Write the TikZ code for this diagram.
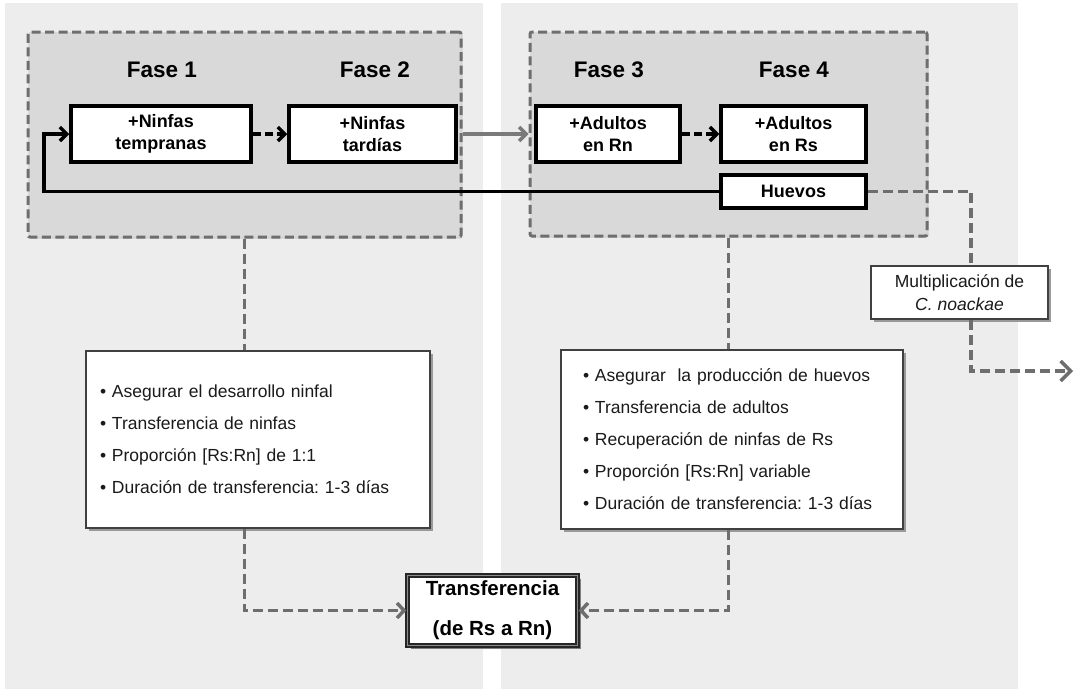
\documentclass[tikz,border=0pt]{standalone}
\usepackage{fontspec}
\setmainfont{Liberation Sans}
\usetikzlibrary{arrows.meta,shadows}
\definecolor{panel}{HTML}{EDEDED}
\definecolor{phase}{HTML}{D9D9D9}
\definecolor{dashgray}{HTML}{6E6E6E}
\definecolor{arrgray}{HTML}{7A7A7A}
\definecolor{txt}{HTML}{1A1A1A}
\frenchspacing
\begin{document}
\begin{tikzpicture}[x=1pt,y=-1pt,
  stagebox/.style={draw=black, fill=white, line width=3.5pt, minimum height=56pt, inner sep=0pt, align=center, font=\fontsize{18}{22}\selectfont\bfseries},
  phasebox/.style={draw=dashgray, fill=phase, line width=3pt, dash pattern=on 9pt off 4.5pt, rounded corners=2pt, inner sep=0pt, drop shadow={shadow xshift=1.5pt, shadow yshift=-1.5pt, fill=black!25, opacity=0.6}},
  phaselabel/.style={font=\fontsize{22.5}{26}\selectfont\bfseries, inner sep=0pt},
  infobox/.style={draw=black!75, fill=white, line width=1.5pt, drop shadow={shadow xshift=3pt, shadow yshift=-3pt, fill=black!40, opacity=1}, align=left, inner ysep=0pt, font=\fontsize{17.5}{32}\selectfont, text=txt},
  multbox/.style={draw=black!75, fill=white, line width=1.5pt, drop shadow={shadow xshift=3pt, shadow yshift=-3pt, fill=black!40, opacity=1}, align=center, inner sep=0pt, font=\fontsize{17.5}{23}\selectfont, text=txt},
  transbox/.style={draw=black!85, double=black!45, double distance=0.8pt, line width=2.2pt, fill=white, drop shadow={shadow xshift=3pt, shadow yshift=-3pt, fill=black!50, opacity=1}, align=center, inner sep=0pt, font=\fontsize{20.5}{40}\selectfont\bfseries},
  grayconn/.style={draw=dashgray, line width=3.5pt, dash pattern=on 10pt off 5pt},
  graytip/.style={-{Straight Barb[length=7pt,width=15pt]}},
  blackarrow/.style={-{Straight Barb[length=7pt,width=14pt]}, line width=3.5pt},
]
\useasboundingbox (0,0) rectangle (1074,689);
\fill[white] (0,0) rectangle (1074,689);
% panels
\fill[panel] (5,3) rectangle (483,689);
\fill[panel] (501,3) rectangle (1018,689);
% phase groups
\node[phasebox, minimum width=433pt, minimum height=205pt] (g1) at (244.5,134.5) {};
\node[phasebox, minimum width=397pt, minimum height=204pt] (g2) at (728.5,134) {};
% labels
\node[phaselabel] (f1) at (162,70) {Fase 1};
\node[phaselabel] (f2) at (375,70) {Fase 2};
\node[phaselabel] (f3) at (609,70) {Fase 3};
\node[phaselabel] (f4) at (794,70) {Fase 4};
% stage boxes
\node[stagebox, minimum width=180pt] (n1) at (161,134) {+Ninfas\\tempranas};
\node[stagebox, minimum width=167pt] (n2) at (372.5,134) {+Ninfas\\tardías};
\node[stagebox, minimum width=144pt] (a1) at (608,134) {+Adultos\\en Rn};
\node[stagebox, minimum width=145pt] (a2) at (793.5,134) {+Adultos\\en Rs};
\node[stagebox, minimum width=145pt, minimum height=33pt] (hv) at (793.5,191.5) {Huevos};
% info boxes
\node[infobox, minimum width=344pt, minimum height=177pt, text width=316pt, inner xsep=14pt] (info1) at (258,439.5)
 {\textbullet\ Asegurar el desarrollo ninfal\\
  \textbullet\ Transferencia de ninfas\\
  \textbullet\ Proporción [Rs:Rn] de 1:1\\
  \textbullet\ Duración de transferencia: 1-3 días};
\node[infobox, minimum width=342pt, minimum height=179pt, text width=298pt, inner xsep=22pt] (info2) at (732,439.5)
 {\textbullet\ Asegurar\ \ la producción de huevos\\
  \textbullet\ Transferencia de adultos\\
  \textbullet\ Recuperación de ninfas de Rs\\
  \textbullet\ Proporción [Rs:Rn] variable\\
  \textbullet\ Duración de transferencia: 1-3 días};
\node[multbox, minimum width=177pt, minimum height=53pt] (mult) at (959.5,292.5) {Multiplicación de\\\textit{C. noackae}};
\node[transbox, minimum width=170pt, minimum height=70pt] (trans) at (492.5,610.5) {Transferencia\\(de Rs a Rn)};
% coordinates
\coordinate (bend) at (971,371);
\coordinate (out) at (1073,371);
\coordinate (lp) at (44,191.5);
% connectors
\draw[blackarrow, dash pattern=on 8pt off 4pt] (n1) -- (n2);
\draw[blackarrow, dash pattern=on 8pt off 4pt] (a1) -- (a2);
\draw[-{Straight Barb[length=7pt,width=14pt]}, draw=arrgray, line width=3.5pt] (n2.east -| g1.east) -- (a1.west -| g2.west);
\draw[blackarrow] (hv.west) -- (hv.west -| lp) |- (n1.west);
\draw[grayconn] (g1.south) -- (g1.south |- info1.north);
\draw[grayconn] (g2.south) -- (g2.south |- info2.north);
\draw[grayconn, graytip] (info1.south -| g1.south) |- (trans.west);
\draw[grayconn, graytip] (info2.south -| g2.south) |- (trans.east);
\draw[grayconn] (hv.east) -| (bend |- mult.north);
\draw[grayconn, -{Straight Barb[length=10pt,width=20pt]}] (bend |- mult.south) -- (bend) -- (out);
\end{tikzpicture}
\end{document}
